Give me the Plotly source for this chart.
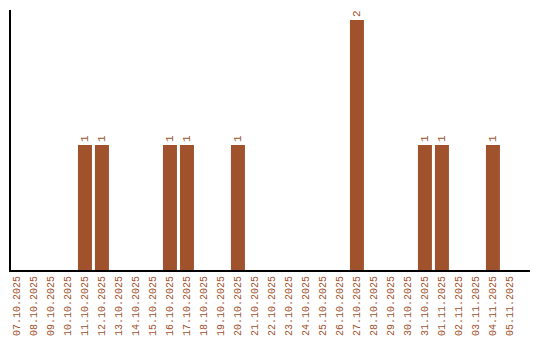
import plotly.graph_objects as go

dates = ["07.10.2025", "08.10.2025", "09.10.2025", "10.10.2025", "11.10.2025",
         "12.10.2025", "13.10.2025", "14.10.2025", "15.10.2025", "16.10.2025",
         "17.10.2025", "18.10.2025", "19.10.2025", "20.10.2025", "21.10.2025",
         "22.10.2025", "23.10.2025", "24.10.2025", "25.10.2025", "26.10.2025",
         "27.10.2025", "28.10.2025", "29.10.2025", "30.10.2025", "31.10.2025",
         "01.11.2025", "02.11.2025", "03.11.2025", "04.11.2025", "05.11.2025"]
counts = [0, 0, 0, 0, 1, 1, 0, 0, 0, 1, 1, 0, 0, 1, 0, 0, 0, 0, 0, 0,
          2, 0, 0, 0, 1, 1, 0, 0, 1, 0]

color = "#A0522D"
font_family = "Liberation Mono, Courier New, monospace"

labels = [str(v) if v else "" for v in counts]

fig = go.Figure(go.Bar(
    x=list(range(len(dates))), y=counts,
    marker=dict(color=color, line=dict(width=0)),
    width=14 / 17,
    text=labels, textposition="outside", textangle=-90,
    textfont=dict(family=font_family, size=11, color=color),
    cliponaxis=False,
))

fig.update_layout(
    width=540, height=340,
    margin=dict(l=11, r=10, t=10, b=70),
    paper_bgcolor="white", plot_bgcolor="white",
    showlegend=False,
    font=dict(family=font_family, size=10, color=color),
    xaxis=dict(
        range=[-0.35, 30.18], automargin=False,
        tickmode="array", tickvals=list(range(len(dates))), ticktext=dates,
        tickangle=-90, showgrid=False, zeroline=False,
        showline=True, linecolor="black", linewidth=2,
        ticks="", 
        tickfont=dict(family=font_family, size=10, color=color),
    ),
    yaxis=dict(
        range=[0, 2.08], showgrid=False, zeroline=False, automargin=False,
        showline=True, linecolor="black", linewidth=2,
        showticklabels=False, ticks="",
    ),
)

fig.write_html("out.html")
